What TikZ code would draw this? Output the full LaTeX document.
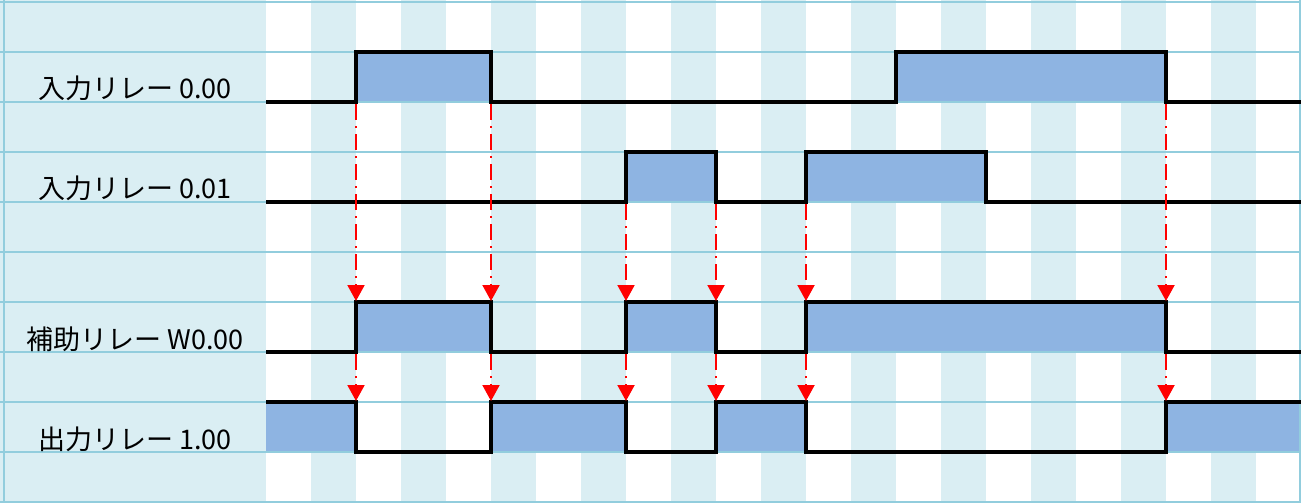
\documentclass[tikz,border=0pt]{standalone}
\usepackage{fontspec}
\setmainfont{Noto Sans CJK JP}
\usetikzlibrary{arrows.meta}

\definecolor{stripe}{RGB}{218,238,243}
\definecolor{gridline}{RGB}{146,205,221}
\definecolor{onfill}{RGB}{142,180,226}

\tikzset{
  signal/.style={line width=4pt, line join=miter, black},
  hilevel/.style={fill=onfill},
  relaylabel/.style={anchor=base, font=\fontsize{27}{32}\selectfont},
  trigger/.style={red, line width=2pt, dash pattern=on 16pt off 6pt on 2pt off 6pt,
    -{Triangle[length=16pt, width=17pt]}}
}

\begin{document}
\begin{tikzpicture}[x=1pt, y=-1pt]
\useasboundingbox (0, 0) rectangle (1301, 503);

% Background: label column and time stripes
\fill[stripe] (0, 0) rectangle (266, 503);
\fill[stripe] (311, 0) rectangle (356, 503);
\fill[stripe] (401, 0) rectangle (446, 503);
\fill[stripe] (491, 0) rectangle (536, 503);
\fill[stripe] (581, 0) rectangle (626, 503);
\fill[stripe] (671, 0) rectangle (716, 503);
\fill[stripe] (761, 0) rectangle (806, 503);
\fill[stripe] (851, 0) rectangle (896, 503);
\fill[stripe] (941, 0) rectangle (986, 503);
\fill[stripe] (1031, 0) rectangle (1076, 503);
\fill[stripe] (1121, 0) rectangle (1166, 503);
\fill[stripe] (1211, 0) rectangle (1256, 503);

% High levels
\fill[hilevel] (356, 52) rectangle (491, 102);
\fill[hilevel] (896, 52) rectangle (1166, 102);
\fill[hilevel] (626, 152) rectangle (716, 202);
\fill[hilevel] (806, 152) rectangle (986, 202);
\fill[hilevel] (356, 302) rectangle (491, 352);
\fill[hilevel] (626, 302) rectangle (716, 352);
\fill[hilevel] (806, 302) rectangle (1166, 352);
\fill[hilevel] (266, 402) rectangle (356, 452);
\fill[hilevel] (491, 402) rectangle (626, 452);
\fill[hilevel] (716, 402) rectangle (806, 452);
\fill[hilevel] (1166, 402) rectangle (1301, 452);

% Row lines
\draw[gridline, line width=1.5pt] (0, 2) -- (1301, 2);
\draw[gridline, line width=1.5pt] (0, 52) -- (1301, 52);
\draw[gridline, line width=1.5pt] (0, 102) -- (1301, 102);
\draw[gridline, line width=1.5pt] (0, 152) -- (1301, 152);
\draw[gridline, line width=1.5pt] (0, 202) -- (1301, 202);
\draw[gridline, line width=1.5pt] (0, 252) -- (1301, 252);
\draw[gridline, line width=1.5pt] (0, 302) -- (1301, 302);
\draw[gridline, line width=1.5pt] (0, 352) -- (1301, 352);
\draw[gridline, line width=1.5pt] (0, 402) -- (1301, 402);
\draw[gridline, line width=1.5pt] (0, 452) -- (1301, 452);
\draw[gridline, line width=1.5pt] (0, 502) -- (1301, 502);
\draw[gridline, line width=1.5pt] (4, 0) -- (4, 503);
\draw[gridline, line width=1.5pt] (1300, 0) -- (1300, 503);

% Relay names
\node[relaylabel] (in000) at (135, 98) {入力リレー 0.00};
\node[relaylabel] (in001) at (135, 198) {入力リレー 0.01};
\node[relaylabel] (aux) at (135, 349) {補助リレー W0.00};
\node[relaylabel] (out100) at (135, 449) {出力リレー 1.00};

% Signals
\draw[signal] (266, 102) -- (356, 102) -- (356, 52) -- (491, 52) -- (491, 102) -- (896, 102)
  -- (896, 52) -- (1166, 52) -- (1166, 102) -- (1301, 102);
\draw[signal] (266, 202) -- (626, 202) -- (626, 152) -- (716, 152) -- (716, 202) -- (806, 202)
  -- (806, 152) -- (986, 152) -- (986, 202) -- (1301, 202);
\draw[signal] (266, 352) -- (356, 352) -- (356, 302) -- (491, 302) -- (491, 352) -- (626, 352)
  -- (626, 302) -- (716, 302) -- (716, 352) -- (806, 352) -- (806, 302) -- (1166, 302)
  -- (1166, 352) -- (1301, 352);
\draw[signal] (266, 402) -- (356, 402) -- (356, 452) -- (491, 452) -- (491, 402) -- (626, 402)
  -- (626, 452) -- (716, 452) -- (716, 402) -- (806, 402) -- (806, 452) -- (1166, 452)
  -- (1166, 402) -- (1301, 402);

% Triggers to W0.00
\draw[trigger] (356, 104) -- (356, 301);
\draw[trigger] (491, 104) -- (491, 301);
\draw[trigger] (626, 204) -- (626, 301);
\draw[trigger] (716, 204) -- (716, 301);
\draw[trigger] (806, 204) -- (806, 301);
\draw[trigger] (1166, 104) -- (1166, 301);

% Triggers to 1.00
\draw[trigger] (356, 354) -- (356, 401);
\draw[trigger] (491, 354) -- (491, 401);
\draw[trigger] (626, 354) -- (626, 401);
\draw[trigger] (716, 354) -- (716, 401);
\draw[trigger] (806, 354) -- (806, 401);
\draw[trigger] (1166, 354) -- (1166, 401);
\end{tikzpicture}
\end{document}
